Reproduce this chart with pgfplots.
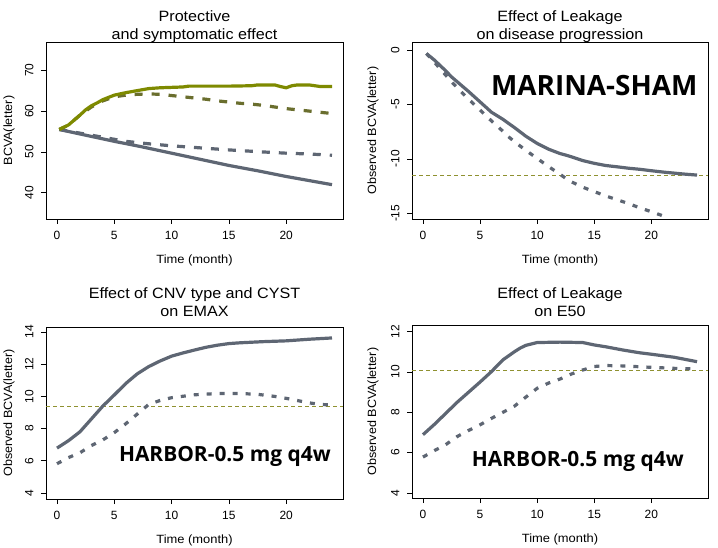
\documentclass[border=0pt]{standalone}
\usepackage{fontspec}
\setmainfont{Liberation Sans}
\newfontfamily\annfont{Open Sans}
\usepackage{pgfplots}
\pgfplotsset{compat=1.18}
\definecolor{lgray}{HTML}{5E6673}
\definecolor{olv}{HTML}{7E8A00}
\definecolor{olvd}{HTML}{6A6E2E}
\definecolor{refl}{HTML}{8F9130}
\pgfplotsset{
  rstyle/.style={
    scale only axis,
    axis line style={line width=0.8bp},
    tick align=outside, xtick pos=left, ytick pos=left,
    major tick length=5bp,
    tick style={black, line width=0.7bp},
    xmin=-0.96, xmax=24.96, xtick={0,5,10,15,20},
    /pgf/number format/assume math mode=true,
    tick label style={font=\fontsize{12}{14}\selectfont},
    yticklabel style={rotate=90, anchor=south},
    xticklabel shift=4bp, yticklabel shift=4bp,
    xlabel={Time (month)},
    xlabel style={at={([yshift=-41bp]axis description cs:0.5,0)}, anchor=center, font=\fontsize{12}{14}\selectfont, xscale=1.08},
    title style={at={(axis description cs:0.5,1)}, anchor=south, inner sep=0pt, align=center, font=\fontsize{15}{18}\selectfont, xscale=1.08},
    clip=true,
  },
  gl/.style={color=lgray, line width=3.2bp},
  gd/.style={color=lgray, line width=3.2bp, dash pattern=on 8bp off 9bp},
  gd2/.style={color=lgray, line width=3.2bp, dash pattern=on 5bp off 8bp},
}
\begin{document}
\begin{tikzpicture}
\useasboundingbox (0,0) rectangle (718bp,548bp);
% Panel 1
\begin{axis}[rstyle, at={(46bp,329bp)}, anchor=south west, width=297bp, height=177bp,
  ymin=33.6, ymax=76.9, ytick={40,50,60,70},
  ylabel={BCVA(letter)},
  ylabel style={at={([xshift=-37bp]axis description cs:0,0.5)}, anchor=center, font=\fontsize{12}{14}\selectfont, xscale=1.05},
  title={Protective\\and symptomatic effect}, title style={yshift=-7bp}]
\addplot[gl, no marks] coordinates {(0.2,55.5) (2,54.4) (5,52.6) (7.5,51.2) (10,49.7) (12.5,48.2) (15,46.7) (17.5,45.4) (20,44.0) (22,43.0) (24,42.0)};
\addplot[gd, no marks] coordinates {(0.2,55.5) (2,54.6) (4,53.6) (6,52.6) (8,52.0) (10,51.5) (12,51.1) (15,50.5) (18,50.0) (20,49.7) (22,49.5) (24,49.2)};
\addplot[color=olvd, line width=3.2bp, dash pattern=on 8bp off 9bp, no marks] coordinates {(0.2,55.5) (1,56.6) (2,59) (3,61) (4,62.5) (5,63.5) (6,63.9) (7,64.1) (8,64.2) (9,64.1) (10,63.8) (11,63.5) (12,63.2) (13,62.9) (14,62.5) (15,62.2) (16,61.9) (17,61.7) (18,61.4) (19,61.0) (20,60.6) (21,60.3) (22,60.0) (23,59.7) (24,59.4)};
\addplot[color=olv, line width=3.2bp, no marks] coordinates {(0.2,55.5) (1,56.6) (2,59) (2.5,60.3) (3,61.3) (3.5,62) (4,62.8) (5,63.9) (6,64.5) (7,65) (8,65.5) (9,65.7) (10,65.8) (11,65.9) (11.5,66.1) (13,66.1) (15,66.1) (17,66.2) (17.5,66.4) (19,66.4) (19.5,66) (20,65.7) (20.5,66.2) (21,66.4) (22,66.4) (22.5,66.2) (23,66) (24,66)};
\end{axis}
% Panel 2
\begin{axis}[rstyle, at={(412bp,329bp)}, anchor=south west, width=296bp, height=177bp,
  ymin=-15.52, ymax=0.76, ytick={-15,-10,-5,0},
  ylabel={Observed BCVA(letter)},
  ylabel style={at={([xshift=-39bp]axis description cs:0,0.5)}, anchor=center, font=\fontsize{12}{14}\selectfont, xscale=1.05},
  title={Effect of Leakage\\on disease progression}, title style={yshift=-7bp}]
\addplot[color=refl, line width=0.9bp, dash pattern=on 4bp off 3bp, no marks] coordinates {(-0.96,-11.48) (24.96,-11.48)};
\addplot[gd2, no marks] coordinates {(0.3,-0.3) (1,-1.1) (2,-2.3) (2.5,-2.9) (3,-3.45) (4,-4.5) (5,-5.5) (6,-6.5) (7,-7.45) (7.5,-7.96) (8,-8.4) (9,-9.2) (10,-9.95) (11,-10.7) (12,-11.4) (12.5,-11.78) (13,-12.1) (14,-12.6) (15,-13.0) (16,-13.4) (17,-13.75) (18,-14.1) (19,-14.5) (20,-14.85) (21.2,-15.3)};
\addplot[gl, no marks] coordinates {(0.3,-0.3) (1,-0.9) (2,-1.9) (2.5,-2.45) (3,-2.9) (4,-3.8) (5,-4.75) (6,-5.7) (7,-6.35) (7.5,-6.73) (8,-7.1) (9,-7.9) (10,-8.57) (11,-9.1) (12,-9.5) (12.5,-9.64) (13,-9.8) (14,-10.15) (15,-10.4) (16,-10.6) (17,-10.72) (18,-10.85) (19,-10.95) (20,-11.08) (21,-11.2) (22,-11.3) (23,-11.4) (24,-11.48)};
\node[anchor=base, inner sep=0pt, font=\annfont\bfseries\fontsize{28}{32}\selectfont] at (axis cs:15.0,-4.13) {MARINA-SHAM};
\end{axis}
% Panel 3
\begin{axis}[rstyle, at={(46bp,49bp)}, anchor=south west, width=297bp, height=172bp,
  ymin=3.63, ymax=14.31, ytick={4,6,8,10,12,14},
  ylabel={Observed BCVA(letter)},
  ylabel style={at={([xshift=-37bp]axis description cs:0,0.5)}, anchor=center, font=\fontsize{12}{14}\selectfont, xscale=1.05},
  title={Effect of CNV type and CYST\\on EMAX}, title style={yshift=4bp}]
\addplot[color=refl, line width=0.9bp, dash pattern=on 4bp off 3bp, no marks] coordinates {(-0.96,9.4) (24.96,9.4)};
\addplot[gd2, no marks] coordinates {(0,5.82) (1,6.2) (2,6.5) (3,6.95) (4,7.3) (5,7.75) (6,8.3) (7,8.9) (8,9.5) (9,9.75) (10,9.92) (12,10.1) (14,10.18) (15,10.19) (16,10.18) (17.5,10.13) (19,10.0) (20,9.88) (22,9.6) (23,9.5) (24,9.47)};
\addplot[gl, no marks] coordinates {(0,6.79) (1,7.25) (2,7.8) (3,8.6) (4,9.4) (5,10.09) (6,10.8) (7,11.4) (8,11.85) (9,12.2) (10,12.5) (11,12.7) (12,12.88) (13,13.05) (14,13.18) (15,13.28) (16,13.33) (18,13.4) (20,13.45) (22,13.55) (24,13.63)};
\node[anchor=base, inner sep=0pt, font=\annfont\bfseries\fontsize{21}{24}\selectfont] at (axis cs:14.65,5.96) {HARBOR-0.5 mg q4w};
\end{axis}
% Panel 4
\begin{axis}[rstyle, at={(412bp,50bp)}, anchor=south west, width=296bp, height=173bp,
  ymin=3.75, ymax=12.33, ytick={4,6,8,10,12},
  ylabel={Observed BCVA(letter)},
  ylabel style={at={([xshift=-39bp]axis description cs:0,0.5)}, anchor=center, font=\fontsize{12}{14}\selectfont, xscale=1.05},
  title={Effect of Leakage\\on E50}, title style={yshift=2bp}]
\addplot[color=refl, line width=0.9bp, dash pattern=on 4bp off 3bp, no marks] coordinates {(-0.96,10.07) (24.96,10.07)};
\addplot[gd2, no marks] coordinates {(0,5.78) (1,6.1) (2,6.4) (3,6.8) (4,7.1) (5,7.38) (6,7.7) (7,8.0) (8,8.3) (9,8.75) (10,9.19) (11,9.45) (12,9.65) (13,9.9) (14,10.1) (15,10.27) (16,10.32) (17.5,10.3) (20,10.23) (22,10.18) (24,10.15)};
\addplot[gl, no marks] coordinates {(0,6.89) (1,7.4) (2,7.95) (3,8.5) (4,9.0) (5,9.5) (6,10.02) (7,10.6) (8,11.0) (8.5,11.18) (9,11.32) (10,11.46) (12,11.48) (14,11.46) (15,11.34) (16,11.25) (17.5,11.09) (19,10.95) (20,10.88) (22,10.73) (24,10.51)};
\node[anchor=base, inner sep=0pt, font=\annfont\bfseries\fontsize{21}{24}\selectfont] at (axis cs:13.56,5.32) {HARBOR-0.5 mg q4w};
\end{axis}
\end{tikzpicture}
\end{document}
